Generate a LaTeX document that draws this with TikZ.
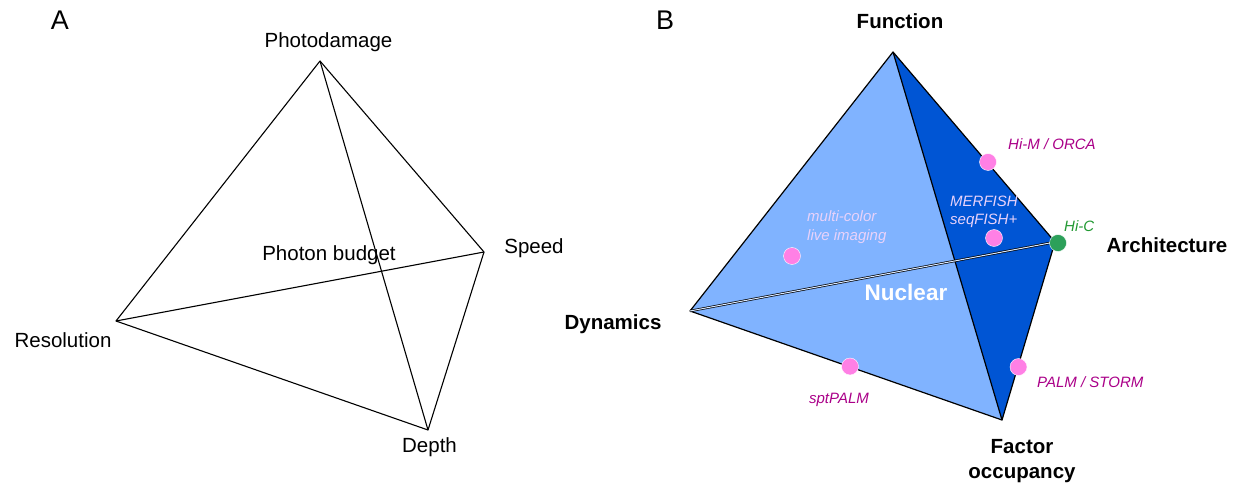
\documentclass[tikz,border=0pt]{standalone}
\usepackage{fontspec}
\setmainfont{Liberation Sans}
\definecolor{lightface}{HTML}{80B3FF}
\definecolor{darkface}{HTML}{0055D4}
\definecolor{dotpink}{HTML}{FF80E5}
\definecolor{magtext}{HTML}{AA0088}
\definecolor{hicgreen}{HTML}{2CA05A}
\definecolor{hictext}{HTML}{229933}
\definecolor{paletext}{HTML}{E8D2FA}
\begin{document}
\begin{tikzpicture}[x=1pt,y=-1pt,
  lab/.style={font=\fontsize{20.5}{24}\selectfont, inner sep=0pt},
  blab/.style={font=\fontsize{20.5}{25}\selectfont\bfseries, inner sep=0pt},
  small/.style={font=\fontsize{15}{18.5}\selectfont\itshape, inner sep=0pt, align=left},
  panel/.style={font=\fontsize{27}{30}\selectfont, inner sep=0pt},
  edgeA/.style={draw=black, line width=1.1pt, line join=round},
  edgeB/.style={draw=black, line width=1.2pt, line join=round},
  hidden/.style={draw=black, line width=0.7pt, double=white!70!lightface, double distance=1pt},
  pinkdot/.style={circle, fill=dotpink, draw=white, line width=0.4pt, minimum size=17pt, inner sep=0pt},
  greendot/.style={circle, fill=hicgreen, draw=white, line width=0.4pt, minimum size=17pt, inner sep=0pt}]
\useasboundingbox (0,0) rectangle (1236,484);
% ---------- Panel A ----------
\node[panel] (pA) at (60,20) {A};
\coordinate (P) at (320,61);
\coordinate (S) at (484,252);
\coordinate (R) at (116,321);
\coordinate (Dp) at (428,430);
\draw[edgeA] (P) -- (R) -- (Dp) -- (S) -- cycle;
\draw[edgeA] (P) -- (Dp);
\draw[edgeA] (R) -- (S);
\node[lab] (lP) at (328.5,42) {Photodamage};
\node[lab] (lPB) at (329,255) {Photon budget};
\node[lab] (lS) at (534,248) {Speed};
\node[lab] (lR) at (63,340) {Resolution};
\node[lab] (lD) at (429.5,447) {Depth};
% ---------- Panel B ----------
\node[panel] (pB) at (665,20) {B};
\coordinate (F) at (893,52);
\coordinate (Ar) at (1055,242);
\coordinate (Dy) at (690,311);
\coordinate (O) at (1002,420);
\fill[lightface] (F) -- (Dy) -- (O) -- cycle;
\fill[darkface] (F) -- (O) -- (Ar) -- cycle;
\draw[edgeB] (F) -- (Dy) -- (O) -- (Ar) -- cycle;
\draw[edgeB] (F) -- (O);
\draw[hidden] (Dy) -- (Ar);
\node[blab] (lF) at (900,21) {Function};
\node[blab] (lA) at (1167,245) {Architecture};
\node[blab] (lDy) at (613,324) {Dynamics};
\node[blab, align=center, font=\fontsize{20.5}{25}\selectfont\bfseries] (lO) at (1022,461) {Factor\\occupancy};
\node[font=\fontsize{22.5}{26}\selectfont\bfseries, text=white, inner sep=0pt] (nuc) at (906,292) {Nuclear};
% dots
\node[pinkdot] (dHiM) at (988,162) {};
\node[pinkdot] (dMER) at (994,238) {};
\node[pinkdot] (dMC) at (792,256) {};
\node[pinkdot] (dSPT) at (850,366.5) {};
\node[pinkdot] (dPALM) at (1018.5,367) {};
\node[greendot] (dHiC) at (1058,243) {};
% dot labels
\node[small, text=magtext, anchor=west] (tHiM) at (1008,144) {Hi-M / ORCA};
\node[small, text=paletext, anchor=west] (tMER) at (950,212) {MERFISH\\seqFISH+};
\node[small, text=hictext, anchor=west] (tHiC) at (1064,226) {Hi-C};
\node[small, text=paletext, anchor=west] (tMC) at (807,227) {multi-color\\live imaging};
\node[small, text=magtext] (tSPT) at (839,400) {sptPALM};
\node[small, text=magtext, anchor=west] (tPALM) at (1037,382) {PALM / STORM};
\end{tikzpicture}
\end{document}
